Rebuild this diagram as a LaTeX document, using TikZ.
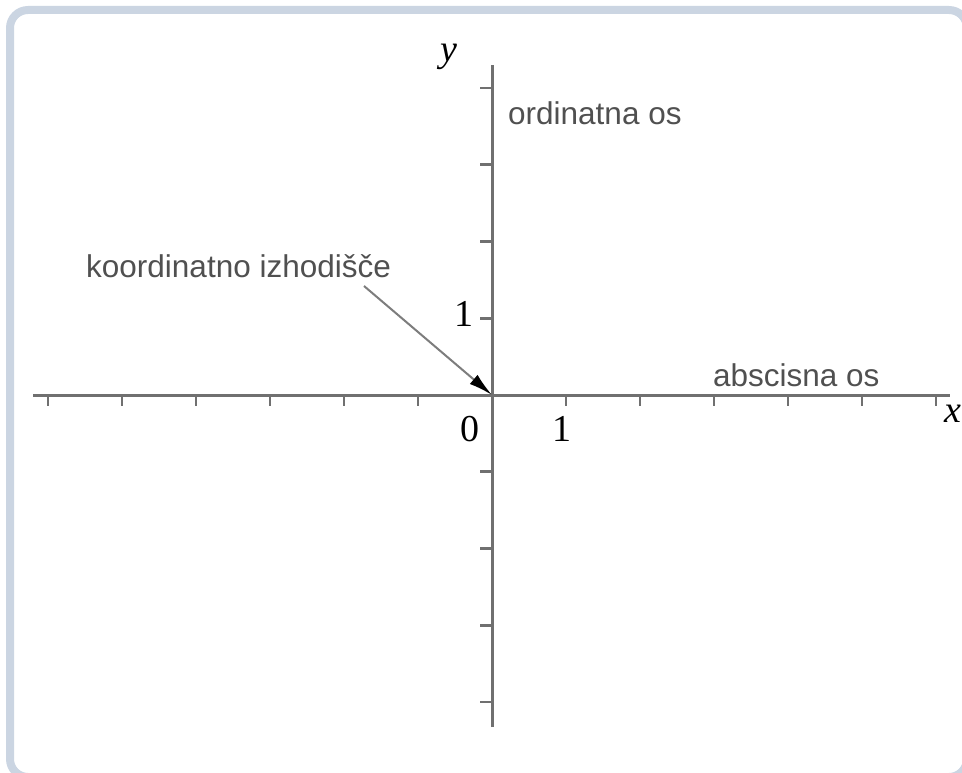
\documentclass[tikz,border=0pt]{standalone}
\usepackage{fontspec}
\setmainfont{Liberation Serif}
\newfontfamily\labfont{Liberation Sans}
\usetikzlibrary{arrows.meta}
\definecolor{framec}{RGB}{203,213,226}
\definecolor{axisc}{RGB}{112,112,112}
\definecolor{textc}{RGB}{80,80,80}
\definecolor{arrowc}{RGB}{125,125,125}
\tikzset{
  axisline/.style={draw=axisc, line width=3pt},
  tickmark/.style={draw=axisc, line width=2.6pt},
  wordlabel/.style={font=\labfont\fontsize{31.5}{36}\selectfont, text=textc, inner sep=0pt, anchor=base west},
  mathlabel/.style={font=\fontsize{38}{42}\selectfont, text=black, inner sep=0pt},
  pointer/.style={draw=arrowc, line width=2pt, -{Latex[length=24pt,width=12pt,black]}}
}
\begin{document}
\begin{tikzpicture}[x=1pt,y=-1pt]
\useasboundingbox (0,0) rectangle (962,773);
\begin{scope}
\clip (0,0) rectangle (962,773);
\draw[draw=framec, line width=8pt, rounded corners=18pt] (10,10) rectangle (967,777);
\end{scope}
% axes
\coordinate (O) at (492,395);
\coordinate (xl) at (33,395);
\coordinate (xr) at (950,395);
\coordinate (yt) at (492,65);
\coordinate (yb) at (492,727);
\draw[axisline] (xl) -- (xr);
\draw[axisline] (yb) -- (yt);
% ticks on x axis
\foreach \k in {-6,...,-1,1,2,...,6}
  \draw[tickmark] ({492+74*\k},395) -- ({492+74*\k},406);
% ticks on y axis
\foreach \k in {-4,...,-1,1,2,...,4}
  \draw[tickmark] (480,{395-76.75*\k}) -- (492,{395-76.75*\k});
% math labels
\node[mathlabel] (ylab) at (449,57) {\itshape y};
\node[mathlabel] (xlab) at (953,414) {\itshape x};
\node[mathlabel] (zero) at (470,429) {0};
\node[mathlabel] (onex) at (562,429) {1};
\node[mathlabel] (oney) at (464,314) {1};
% word labels
\node[wordlabel] (ord) at (508,125) {ordinatna os};
\node[wordlabel] (abs) at (713,386) {abscisna os};
\node[wordlabel] (izh) at (86,277) {koordinatno izhodišče};
\coordinate (arrstart) at (364,286);
\draw[pointer] (arrstart) -- (O);
\end{tikzpicture}
\end{document}
